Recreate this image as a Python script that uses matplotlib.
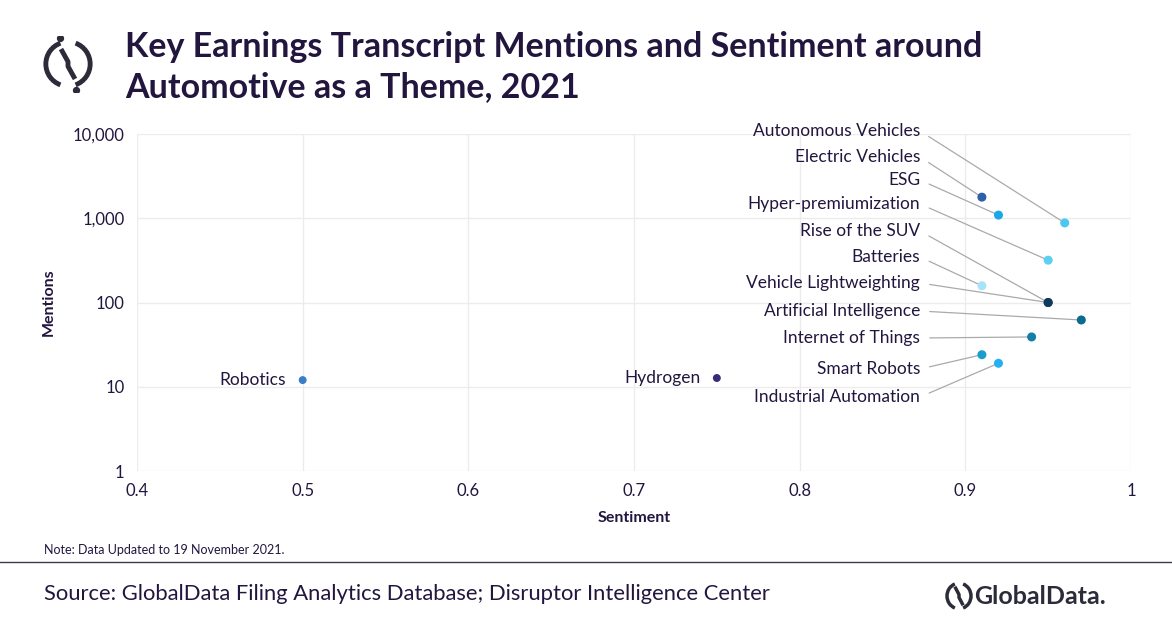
import matplotlib.pyplot as plt
import matplotlib.ticker as mticker
from matplotlib.patches import Arc

plt.rcParams["font.family"] = ["Lato", "DejaVu Sans"]

names = ["Autonomous Vehicles", "Electric Vehicles", "ESG", "Hyper-premiumization",
         "Rise of the SUV", "Batteries", "Vehicle Lightweighting", "Artificial Intelligence",
         "Internet of Things", "Smart Robots", "Industrial Automation"]
sentiment = [0.96, 0.91, 0.92, 0.95, 0.95, 0.91, 0.95, 0.97, 0.94, 0.91, 0.92]
mentions = [880, 1780, 1090, 318, 100, 158, 100, 62, 39, 24, 19]
colors = ["#4cc8f0", "#2f5fa8", "#1aa7e8", "#5bd0f0", "#0e3a5c", "#a8e4f8",
          "#0e3a5c", "#0b6a8f", "#137ea8", "#1a9ccc", "#22b0f0"]
label_y = [131, 157, 180, 204, 231, 257, 283, 311, 338, 369, 397]

left_names = ["Robotics", "Hydrogen"]
left_sent = [0.5, 0.75]
left_ment = [12, 12.7]
left_colors = ["#3a7ec8", "#3a2a7a"]

TXT = "#22163f"
W, H = 1172, 628
fig = plt.figure(figsize=(W / 100, H / 100), dpi=100)
ax = fig.add_axes([137 / W, 1 - 471 / H, (1131 - 137) / W, (471 - 134) / H])
ax.set_yscale("log")
ax.set_xlim(0.4, 1.0)
ax.set_ylim(1, 10000)
ax.yaxis.set_major_formatter(mticker.FuncFormatter(lambda v, p: f"{v:,.0f}"))
ax.yaxis.set_minor_locator(mticker.NullLocator())
ax.xaxis.set_major_locator(mticker.MultipleLocator(0.1))
ax.xaxis.set_major_formatter(mticker.FuncFormatter(lambda v, p: f"{v:g}"))
ax.grid(color="#ececec", lw=1)
for s in ax.spines.values():
    s.set_visible(False)
ax.tick_params(length=0, labelsize=12, labelcolor=TXT, pad=9)
ax.set_xlabel("Sentiment", fontsize=11.5, fontweight="bold", color=TXT, labelpad=8)
ax.set_ylabel("Mentions", fontsize=11.5, fontweight="bold", color=TXT, labelpad=12)

ax.scatter(sentiment, mentions, c=colors, s=30, zorder=3)
ax.scatter(left_sent, left_ment, c=left_colors, s=22, zorder=3)
for n, x, y in zip(left_names, left_sent, left_ment):
    ax.annotate(n, (x, y), xytext=(-12, 0), textcoords="offset points",
                ha="right", va="center", fontsize=12.5, color=TXT)

for n, x, y, ly in zip(names, sentiment, mentions, label_y):
    ax.annotate(n, (x, y), xytext=(920, H - ly), textcoords="figure pixels",
                ha="right", va="center", fontsize=12.5, color=TXT,
                arrowprops=dict(arrowstyle="-", color="#aaaaaa", lw=0.9,
                                relpos=(1, 0.5), shrinkA=5, shrinkB=2),
                zorder=2)

fig.text(125 / W, 1 - 47 / H, "Key Earnings Transcript Mentions and Sentiment around",
         fontsize=24.5, fontweight="bold", color=TXT, va="center")
fig.text(125 / W, 1 - 87 / H, "Automotive as a Theme, 2021",
         fontsize=24.5, fontweight="bold", color=TXT, va="center")
# logo
lax = fig.add_axes([40 / W, 1 - 92 / H, 56 / W, 56 / H])
lax.set_xlim(-1.2, 1.2); lax.set_ylim(-1.2, 1.2); lax.axis("off")
lax.add_patch(Arc((0, 0), 1.9, 1.9, theta1=110, theta2=250, lw=3.5, color="#2b2b3a"))
lax.add_patch(Arc((0, 0), 1.9, 1.9, theta1=290, theta2=70, lw=3.5, color="#2b2b3a"))
lax.plot([-0.25, 0.0, 0.0, 0.25], [0.55, 0.1, -0.1, -0.55], color="#2b2b3a", lw=3.5)
lax.scatter([-0.35, 0.35], [1.12, -1.12], s=18, color="#2b2b3a")

fig.text(44 / W, 1 - 550 / H, "Note: Data Updated to 19 November 2021.", fontsize=9,
         color=TXT, va="center")
fig.add_artist(plt.Line2D([0, 1], [1 - 562 / H] * 2, color="#3a3a4a", lw=1))
fig.text(44 / W, 1 - 594 / H,
         "Source: GlobalData Filing Analytics Database; Disruptor Intelligence Center",
         fontsize=15.8, color=TXT, va="center")
fig.text(974 / W, 1 - 596 / H, "GlobalData.", fontsize=18, color="#2b2b3a",
         va="center", fontweight="bold")
gax = fig.add_axes([943 / W, 1 - 613 / H, 32 / W, 34 / H])
gax.set_xlim(-1.2, 1.2); gax.set_ylim(-1.2, 1.2); gax.axis("off")
gax.add_patch(Arc((0, 0), 1.8, 1.8, theta1=110, theta2=250, lw=2.5, color="#2b2b3a"))
gax.add_patch(Arc((0, 0), 1.8, 1.8, theta1=290, theta2=70, lw=2.5, color="#2b2b3a"))
gax.plot([-0.25, 0.0, 0.0, 0.25], [0.55, 0.1, -0.1, -0.55], color="#2b2b3a", lw=2.5)

fig.savefig("out.png", dpi=100, facecolor="white")
